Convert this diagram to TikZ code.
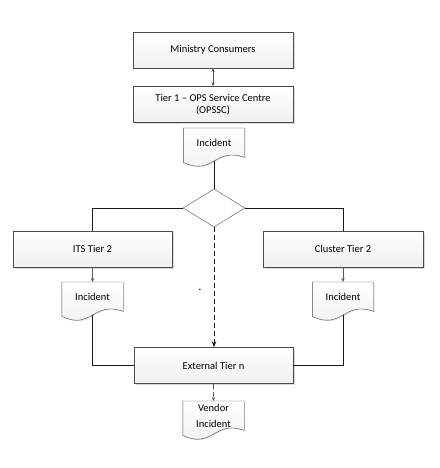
\documentclass[tikz,border=0pt]{standalone}
\usepackage{fontspec}
\setmainfont{Carlito}
\usetikzlibrary{shapes.geometric,calc,arrows.meta,shadows,backgrounds}

\tikzset{
  stepbox/.style={rectangle, draw=gray!60!black, top color=white, bottom color=gray!12,
    minimum width=160, minimum height=36, align=center, font=\fontsize{10.5}{12.5}\selectfont,
    drop shadow={shadow xshift=1.5pt, shadow yshift=-1.5pt, opacity=0.3}},
  docbox/.style={rectangle, minimum width=61, minimum height=29, inner sep=1pt, align=center,
    font=\fontsize{10.5}{16}\selectfont},
  docline/.style={draw=gray!60!black, top color=white, bottom color=gray!12,
    drop shadow={shadow xshift=1pt, shadow yshift=-1pt, opacity=0.25}},
  decision/.style={diamond, draw=gray!60!black, fill=white, minimum width=62, minimum height=38,
    inner sep=0pt, aspect=1.6},
  conn/.style={draw=black!90, line width=0.7pt},
  arr/.style={conn, draw=gray!70!black, -{Stealth[length=4pt,width=3.5pt]}},
  dbl/.style={conn, draw=gray!70!black, {Stealth[length=4pt,width=3.5pt]}-{Stealth[length=4pt,width=3.5pt]}},
  dasharr/.style={conn, dash pattern=on 5pt off 3pt, -{Stealth[length=6pt,width=4.5pt]}}
}

\begin{document}
\begin{tikzpicture}[x=1pt,y=-1pt]
	\useasboundingbox (0,0) rectangle (439,468);
	\node[stepbox] (minis) at (213,50) {Ministry Consumers};
	\node[stepbox] (tier1) at (213,104.5) {Tier 1 -- OPS Service Centre\\(OPSSC)};
	\node[docbox, anchor=north] (inc1) at (214,128) {Incident};
	\node[decision] (dec) at (214,208) {};
	\node[stepbox, minimum width=159] (its) at (92.5,249) {ITS Tier 2};
	\node[stepbox] (clus) at (343,249) {Cluster Tier 2};
	\node[docbox, anchor=north] (inc2) at (92.5,282) {Incident};
	\node[docbox, anchor=north] (inc3) at (343,282) {Incident};
	\node[stepbox, minimum width=159] (ext) at (213.5,365.5) {External Tier n};
	\node[docbox, anchor=north] (vend) at (213.5,401) {Vendor\\Incident};
	\node[font=\normalsize\bfseries, inner sep=0pt, anchor=base] (mark) at (200,290) {.};
	% document outlines behind their texts
	\begin{pgfonlayer}{background}
		\foreach \d in {inc1,inc2,inc3,vend}{
			\draw[docline] (\d.north west) -- (\d.north east) -- (\d.south east)
				.. controls +(-30,-11) and +(30,14) .. ($(\d.south west)+(0,5)$) -- cycle;
			\coordinate (\d-w) at ($(\d.south)+(0,3.5)$);
		}
	\end{pgfonlayer}
	\draw[dbl] (minis.south) -- (tier1.north);
	\draw[conn] (inc1-w) -- (dec.north);
	\draw[conn] (dec.west) -| (its.north);
	\draw[conn] (dec.east) -| (clus.north);
	\draw[arr] (its.south) -- (inc2.north);
	\draw[arr] (clus.south) -- (inc3.north);
	\draw[conn] (inc2-w) |- (ext.west);
	\draw[conn] (inc3-w) |- (ext.east);
	\draw[dasharr] (dec.south) -- (dec.south |- ext.north);
	\draw[dasharr, draw=gray!70!black, -{Stealth[length=4pt,width=3.5pt]}] (ext.south) -- (vend.north);
\end{tikzpicture}
\end{document}
